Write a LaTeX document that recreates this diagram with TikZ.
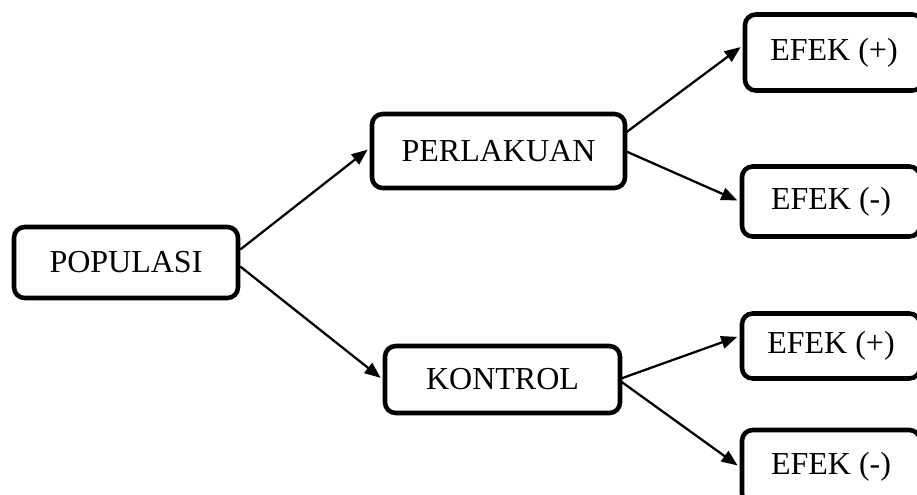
\documentclass[tikz,border=0pt]{standalone}
\usepackage{fontspec}
\setmainfont{Liberation Serif}
\usetikzlibrary{arrows.meta,calc}

\tikzset{
  stage/.style 2 args={draw, line width=3.4pt, rounded corners=8pt, inner sep=0pt,
    minimum width=#1*0.75pt, minimum height=#2*0.75pt,
    font=\fontsize{24}{28}\selectfont},
  link/.style={line width=1.7pt, -{Triangle[length=12pt,width=9.5pt]}, shorten >=2pt}
}

\begin{document}
\begin{tikzpicture}[x=0.75pt,y=-0.75pt]
  \useasboundingbox (0,0) rectangle (917,494);
  \clip (0,0) rectangle (917,494);

  % boxes
  \node[stage={224}{71}] (pop)  at (126,262.5) {POPULASI};
  \node[stage={253}{74}] (perl) at (498.5,151) {PERLAKUAN};
  \node[stage={235}{67}] (kon)  at (502.5,379.5) {KONTROL};
  \node[stage={178}{76}] (ep1)  at (834,52.5) {EFEK (+)};
  \node[stage={178}{70}] (em1)  at (831,201.5) {EFEK (-)};
  \node[stage={178}{65}] (ep2)  at (831,346) {EFEK (+)};
  \node[stage={178}{74}] (em2)  at (831,467) {EFEK (-)};

  % connectors
  \draw[link] ($(pop.east)+(0,-13)$) -- ($(perl.west)+(0,-3)$);
  \draw[link] ($(pop.east)+(0,4)$) -- (kon.west);
  \draw[link] ($(perl.east)+(-2,-18)$) -- ($(ep1.west)+(0,-7)$);
  \draw[link] ($(perl.east)+(-2,0)$) -- (em1.west);
  \draw[link] ($(kon.east)+(-4,0)$) -- ($(ep2.west)+(0,-10)$);
  \draw[link] ($(kon.east)+(-4,0)$) -- (em2.west);
\end{tikzpicture}
\end{document}
